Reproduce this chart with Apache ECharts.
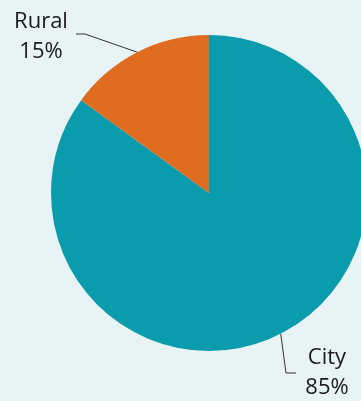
<!DOCTYPE html>
<html>
<head>
<meta charset="utf-8">
<script src="https://cdn.jsdelivr.net/npm/echarts@6/dist/echarts.min.js"></script>
<style>
  html, body { margin: 0; padding: 0; background: #e8f3f5; }
  #chart { width: 361px; height: 401px; }
</style>
</head>
<body>
<div id="chart"></div>
<script>
// Share of population by area type
const categories = ['City', 'Rural'];
const shares = [85, 15];
const colors = ['#0a9bac', '#e06c1f'];

// Where each label block sits and where its leader line bends
const labelSpots = {
  City:  { x: 327, y: 373, bend: [286, 373], end: [296, 373] },
  Rural: { x: 41,  y: 37,  bend: [85, 34],   end: [76, 34] }
};

const chart = echarts.init(document.getElementById('chart'), null, { renderer: 'canvas' });

chart.setOption({
  backgroundColor: '#e8f3f5',
  animation: false,
  series: [{
    type: 'pie',
    center: [209, 193],
    radius: 158,
    startAngle: 90,
    clockwise: true,
    data: categories.map((name, i) => ({
      name,
      value: shares[i],
      itemStyle: { color: colors[i] }
    })),
    label: {
      show: true,
      position: 'outside',
      formatter: p => p.name + '\n' + p.value + '%',
      fontFamily: 'Open Sans',
      fontSize: 22,
      lineHeight: 30,
      color: '#1a1a1a',
      align: 'center',
      width: 80,
      overflow: 'none'
    },
    labelLine: {
      show: true,
      lineStyle: { color: '#333', width: 1 }
    },
    labelLayout: function (params) {
      const name = categories[params.dataIndex];
      const spot = labelSpots[name];
      const start = params.labelLinePoints ? params.labelLinePoints[0] : spot.bend;
      return {
        x: spot.x,
        y: spot.y,
        align: 'center',
        verticalAlign: 'middle',
        width: 80,
        labelLinePoints: [start, spot.bend, spot.end]
      };
    }
  }]
});
</script>
</body>
</html>
